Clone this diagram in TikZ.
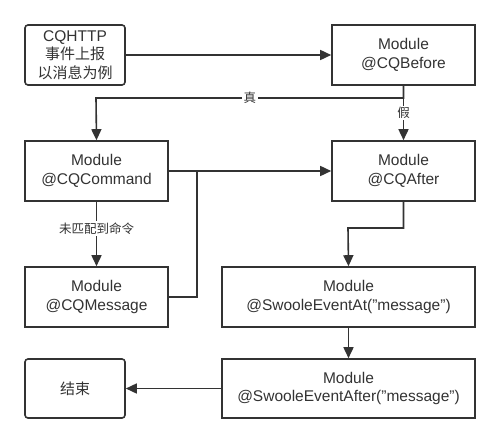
\documentclass[tikz,border=0pt]{standalone}
\usepackage{fontspec}
\setmainfont{Liberation Sans}
\newfontfamily\cjk{Noto Sans CJK SC}
\usetikzlibrary{arrows.meta}
\definecolor{ln}{HTML}{333333}
\tikzset{
  box/.style={draw=ln, line width=1.6pt, fill=white, align=center, inner sep=0pt,
    font=\fontsize{15.5}{18.5}\selectfont, text=ln},
  rbox/.style={box, rounded corners=3pt},
  conn/.style={draw=ln, line width=1.6pt, -{Triangle[length=11pt,width=10pt]}},
  lab/.style={fill=white, inner sep=1.5pt, text=ln, font=\cjk\fontsize{12.5}{14}\selectfont}
}
\begin{document}
\begin{tikzpicture}[x=1pt,y=-1pt]
\useasboundingbox (0,0) rectangle (500,444);
\node[rbox, minimum width=100pt, minimum height=60pt] (src) at (75,55) {CQHTTP\\{\cjk\fontsize{15}{18.5}\selectfont 事件上报}\\{\cjk\fontsize{15}{18.5}\selectfont 以消息为例}};
\node[box, minimum width=143pt, minimum height=60pt] (before) at (403.5,55) {Module\\@CQBefore};
\node[box, minimum width=143pt, minimum height=60pt] (cmd) at (96.5,171) {Module\\@CQCommand};
\node[box, minimum width=143pt, minimum height=60pt] (after) at (403.5,171) {Module\\@CQAfter};
\node[box, minimum width=143pt, minimum height=60pt] (msg) at (96.5,297) {Module\\@CQMessage};
\node[box, minimum width=253pt, minimum height=60pt] (at) at (348.5,297) {Module\\@SwooleEventAt("message")};
\node[box, minimum width=253pt, minimum height=59pt] (aft) at (348.5,388.5) {Module\\@SwooleEventAfter("message")};
\node[rbox, minimum width=100pt, minimum height=59pt] (end) at (75,388.5) {{\cjk\fontsize{15}{18.5}\selectfont 结束}};
\coordinate (j) at (197,171);
\draw[conn] (src) -- (before);
\draw[conn] (before.south) |- (96,98) node[lab, pos=0.75] {真} -- (cmd.north);
\draw[conn] (before.south) -- node[lab, pos=0.5] {假} (after.north);
\draw[conn] (cmd.east) -- (after.west);
\draw[conn] (cmd.south) -- node[lab, pos=0.42] {未匹配到命令} (msg.north);
\draw[draw=ln, line width=1.6pt] (msg.east) -| (j);
\draw[conn] (after.south) |- (348,228) -- (at.north);
\draw[conn] (at.south) -- (aft.north);
\draw[conn] (aft.west) -- (end.east);
\end{tikzpicture}
\end{document}
